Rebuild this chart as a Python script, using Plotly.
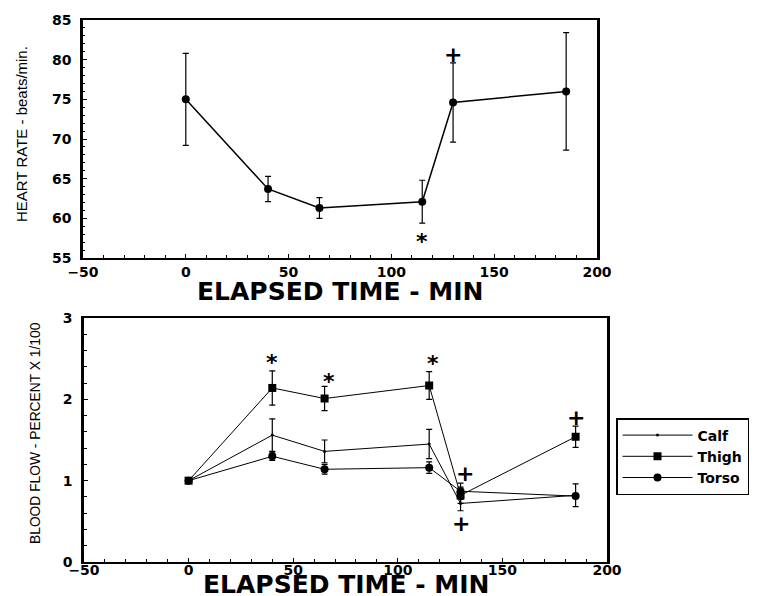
import plotly.graph_objects as go

# ---------------- data ----------------
time_min = [0, 40, 65, 115, 130, 185]

hr_mean = [75.0, 63.7, 61.3, 62.1, 74.6, 76.0]
hr_err = [5.8, 1.6, 1.3, 2.7, 5.0, 7.4]

calf = [1.0, 1.56, 1.36, 1.45, 0.72, 0.82]
calf_err = [0.0, 0.20, 0.14, 0.18, 0.09, 0.14]
thigh = [1.0, 2.14, 2.01, 2.17, 0.82, 1.54]
thigh_err = [0.0, 0.21, 0.15, 0.17, 0.10, 0.13]
torso = [1.0, 1.30, 1.14, 1.16, 0.87, 0.81]
torso_err = [0.0, 0.05, 0.06, 0.07, 0.10, 0.0]

# significance marks: (symbol, x, y)
hr_marks = [("+", 130, 80.6), ("*", 115, 57.3)]
bf_marks = [("*", 40, 2.48), ("*", 67, 2.24), ("*", 117, 2.46),
            ("+", 132, 1.09), ("+", 130, 0.47), ("+", 185, 1.78)]

x_ticks = [-50, 0, 50, 100, 150, 200]

W, H = 780, 596
TICKFONT = dict(family="DejaVu Sans", size=14, color="black", weight="bold")
TITLEFONT = dict(family="DejaVu Sans", size=25, color="black", weight="bold")
YTITLEFONT = dict(family="Liberation Sans", size=15, color="black")
MARKFONT = dict(family="DejaVu Sans", size=22, color="black", weight="bold")

fig = go.Figure()

fig.add_trace(go.Scatter(
    x=time_min, y=hr_mean, mode="lines+markers", xaxis="x", yaxis="y",
    line=dict(color="black", width=1.5),
    marker=dict(symbol="circle", size=8, color="black"),
    error_y=dict(type="data", array=hr_err, color="black", thickness=1.2, width=3),
    showlegend=False,
))

series = [("Calf", calf, calf_err, "circle", 3),
          ("Thigh", thigh, thigh_err, "square", 8),
          ("Torso", torso, torso_err, "circle", 8)]
for name, vals, errs, sym, sz in series:
    fig.add_trace(go.Scatter(
        x=time_min, y=vals, name=name, mode="lines+markers", xaxis="x2", yaxis="y2",
        line=dict(color="black", width=1),
        marker=dict(symbol=sym, size=sz, color="black"),
        error_y=dict(type="data", array=errs, color="black", thickness=1.2, width=3),
    ))

common_x = dict(range=[-50, 200], tickvals=x_ticks, ticks="inside", ticklen=4,
                tickwidth=1, tickcolor="black", showline=True, linecolor="black",
                linewidth=2, mirror=True, showgrid=False, zeroline=False,
                tickfont=TICKFONT, automargin=False,
                minor=dict(dtick=10, ticks="inside", ticklen=3, tickcolor="black", tickwidth=1))
common_y = dict(ticks="inside", ticklen=4, tickwidth=1, tickcolor="black",
                showline=True, linecolor="black", linewidth=2.5, mirror=True,
                showgrid=False, zeroline=False, tickfont=TICKFONT, automargin=False,
                ticklabelstandoff=6)

fig.update_layout(
    width=W, height=H, autosize=False,
    margin=dict(l=0, r=0, t=0, b=0, pad=0),
    paper_bgcolor="white", plot_bgcolor="white",
    xaxis=dict(domain=[83 / W, 597 / W], anchor="y", **common_x),
    yaxis=dict(domain=[1 - 258 / H, 1 - 20 / H], anchor="x", range=[55, 85], dtick=5,
               minor=dict(dtick=1, ticks="inside", ticklen=2, tickcolor="black", tickwidth=1),
               **common_y),
    xaxis2=dict(domain=[84 / W, 607 / W], anchor="y2", ticklabelstandoff=-6, **common_x),
    yaxis2=dict(domain=[1 - 562 / H, 1 - 318 / H], anchor="x2", range=[0, 3], dtick=1,
                minor=dict(dtick=0.2, ticks="inside", ticklen=3, tickcolor="black", tickwidth=1),
                **common_y),
    legend=dict(x=616 / W, y=1 - 418 / H, xanchor="left", yanchor="top",
                bordercolor="black", borderwidth=1.5, bgcolor="white",
                font=dict(family="DejaVu Sans", size=14, color="black", weight="bold"),
                tracegroupgap=0, itemwidth=70),
)

annotations = []
for sym, xv, yv in hr_marks:
    annotations.append(dict(text=sym, x=xv, y=yv, xref="x", yref="y", showarrow=False,
                            font=MARKFONT, yshift=-2 if sym == "*" else 0))
for sym, xv, yv in bf_marks:
    annotations.append(dict(text=sym, x=xv, y=yv, xref="x2", yref="y2", showarrow=False,
                            font=MARKFONT, yshift=-2 if sym == "*" else 0))

# axis titles
annotations += [
    dict(text="ELAPSED TIME - MIN", x=(83 + 597) / 2 / W, y=1 - 291 / H, xref="paper", yref="paper",
         showarrow=False, font=TITLEFONT, xanchor="center", yanchor="middle"),
    dict(text="ELAPSED TIME - MIN", x=(84 + 607) / 2 / W, y=1 - 584 / H, xref="paper", yref="paper",
         showarrow=False, font=TITLEFONT, xanchor="center", yanchor="middle"),
    dict(text="HEART RATE - beats/min.", x=21 / W, y=1 - 134 / H, xref="paper", yref="paper",
         showarrow=False, font=YTITLEFONT, textangle=-90, xanchor="center", yanchor="middle"),
    dict(text="BLOOD FLOW - PERCENT X 1/100", x=35 / W, y=1 - 433 / H, xref="paper", yref="paper",
         showarrow=False, font=dict(YTITLEFONT, size=13.8), textangle=-90,
         xanchor="center", yanchor="middle"),
]
fig.update_layout(annotations=annotations)

fig.write_html("out.html", config={"displayModeBar": False},
               post_script="document.body.style.margin='0';")
